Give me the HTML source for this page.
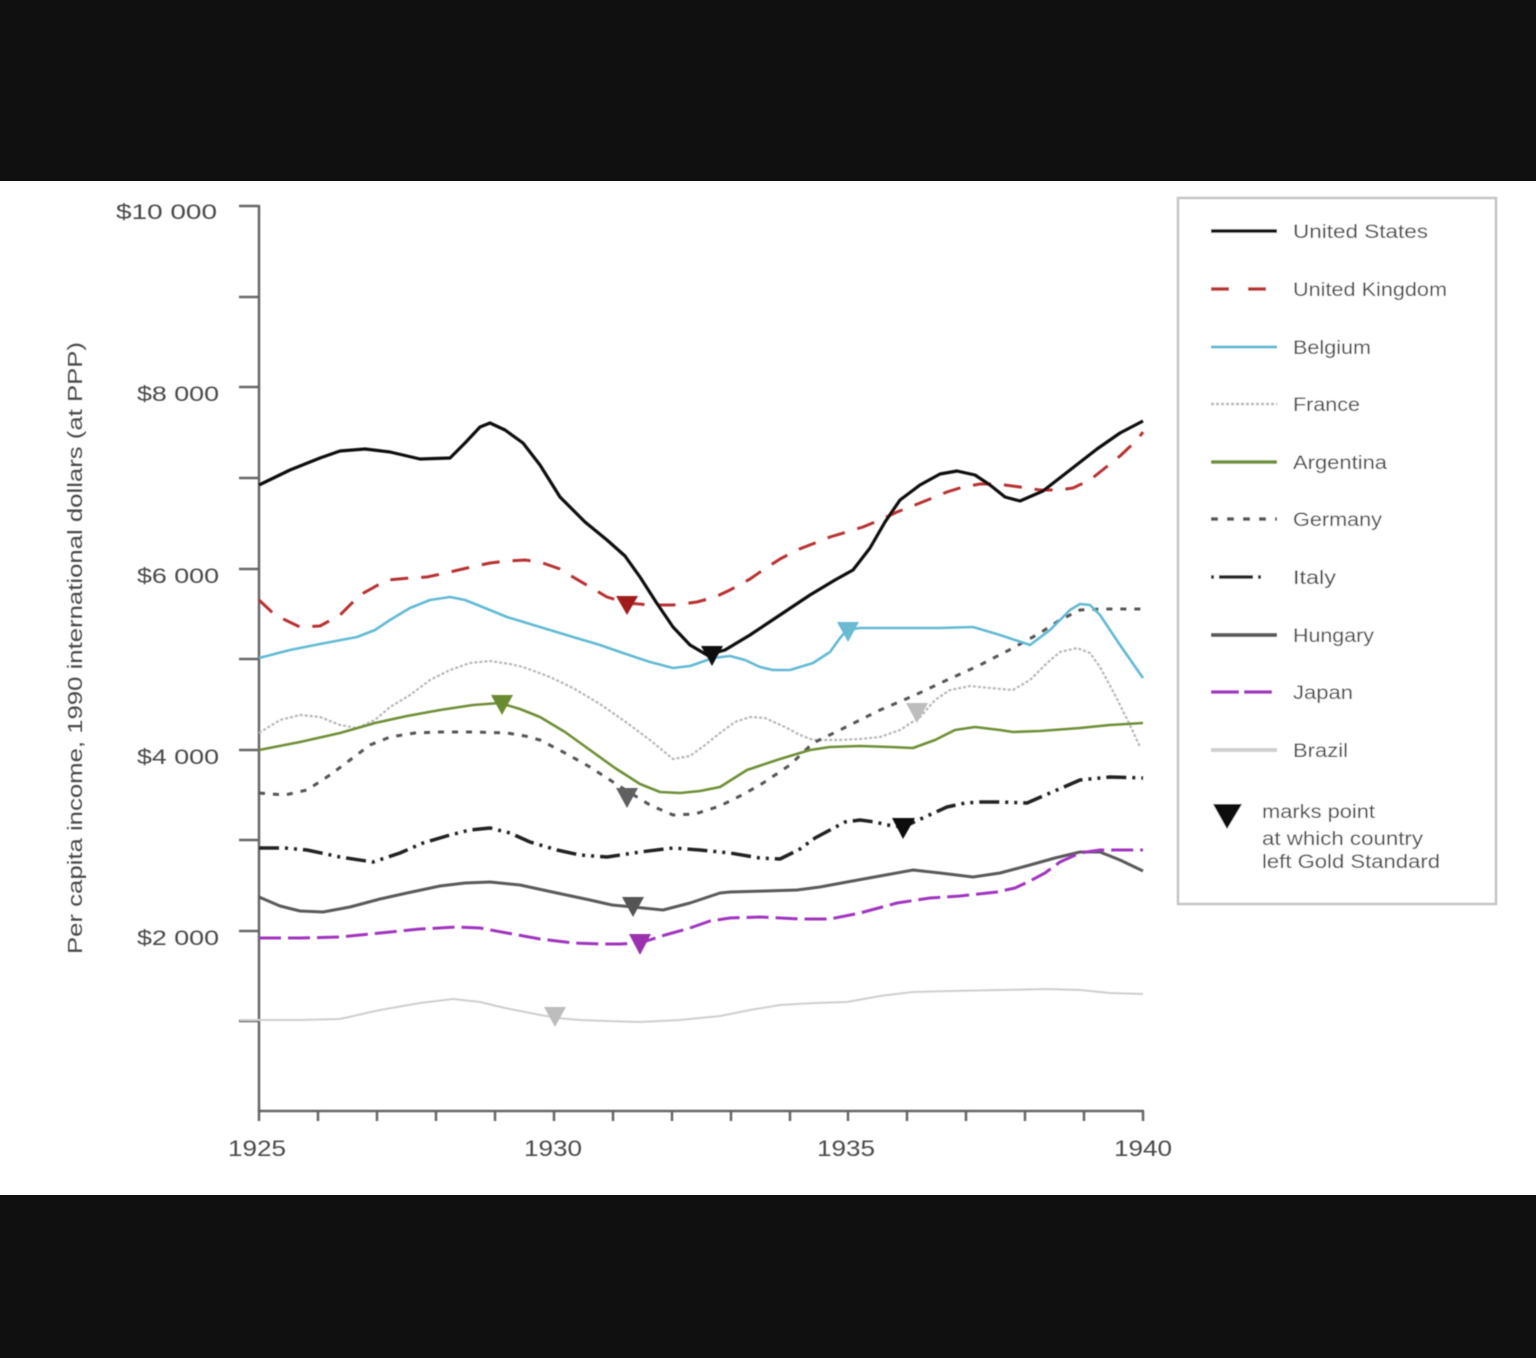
<!DOCTYPE html>
<html>
<head>
<meta charset="utf-8">
<style>
html,body{margin:0;padding:0;background:#111;}
body{width:1536px;height:1358px;position:relative;overflow:hidden;}
svg{position:absolute;left:0;top:0;}
text{font-family:"Liberation Sans",sans-serif;fill:#4a4a4a;}
</style>
</head>
<body>
<svg width="1536" height="1358" viewBox="0 0 1536 1358" xmlns="http://www.w3.org/2000/svg">
  <defs>
    <filter id="soft" x="-5%" y="-5%" width="110%" height="110%">
      <feGaussianBlur stdDeviation="0.6"/>
    </filter>
  </defs>
  <rect x="0" y="0" width="1536" height="181" fill="#101010"/>
  <rect x="0" y="181" width="1536" height="1014" fill="#ffffff"/>
  <rect x="0" y="1195" width="1536" height="163" fill="#101010"/>

  <g filter="url(#soft)">
  <!-- Axes -->
  <g stroke="#666" stroke-width="2.5" fill="none">
    <line x1="259" y1="205" x2="259" y2="1112"/>
    <line x1="258" y1="1111" x2="1144" y2="1111"/>
    <line x1="239" y1="206" x2="259" y2="206"/>
    <line x1="239" y1="297" x2="259" y2="297"/>
    <line x1="239" y1="387" x2="259" y2="387"/>
    <line x1="239" y1="478" x2="259" y2="478"/>
    <line x1="239" y1="569" x2="259" y2="569"/>
    <line x1="239" y1="659" x2="259" y2="659"/>
    <line x1="239" y1="750" x2="259" y2="750"/>
    <line x1="239" y1="840" x2="259" y2="840"/>
    <line x1="239" y1="931" x2="259" y2="931"/>
    <line x1="239" y1="1021" x2="259" y2="1021"/>
    <line x1="259" y1="1111" x2="259" y2="1121"/>
    <line x1="318" y1="1111" x2="318" y2="1121"/>
    <line x1="377" y1="1111" x2="377" y2="1121"/>
    <line x1="436" y1="1111" x2="436" y2="1121"/>
    <line x1="495" y1="1111" x2="495" y2="1121"/>
    <line x1="554" y1="1111" x2="554" y2="1121"/>
    <line x1="613" y1="1111" x2="613" y2="1121"/>
    <line x1="672" y1="1111" x2="672" y2="1121"/>
    <line x1="731" y1="1111" x2="731" y2="1121"/>
    <line x1="790" y1="1111" x2="790" y2="1121"/>
    <line x1="848" y1="1111" x2="848" y2="1121"/>
    <line x1="907" y1="1111" x2="907" y2="1121"/>
    <line x1="966" y1="1111" x2="966" y2="1121"/>
    <line x1="1025" y1="1111" x2="1025" y2="1121"/>
    <line x1="1084" y1="1111" x2="1084" y2="1121"/>
    <line x1="1143" y1="1111" x2="1143" y2="1121"/>
  </g>

  <!-- Y labels -->
  <g font-size="21" text-anchor="end">
    <text x="217" y="219" textLength="101" lengthAdjust="spacingAndGlyphs">$10 000</text>
    <text x="219" y="401" textLength="82" lengthAdjust="spacingAndGlyphs">$8 000</text>
    <text x="219" y="583" textLength="82" lengthAdjust="spacingAndGlyphs">$6 000</text>
    <text x="219" y="764" textLength="82" lengthAdjust="spacingAndGlyphs">$4 000</text>
    <text x="219" y="945" textLength="82" lengthAdjust="spacingAndGlyphs">$2 000</text>
  </g>
  <!-- X labels -->
  <g font-size="22" text-anchor="middle">
    <text x="257" y="1156" textLength="58" lengthAdjust="spacingAndGlyphs">1925</text>
    <text x="553" y="1156" textLength="58" lengthAdjust="spacingAndGlyphs">1930</text>
    <text x="846" y="1156" textLength="58" lengthAdjust="spacingAndGlyphs">1935</text>
    <text x="1143" y="1156" textLength="58" lengthAdjust="spacingAndGlyphs">1940</text>
  </g>
  <!-- Y title -->
  <text font-size="20" text-anchor="middle" transform="translate(82,648) rotate(-90)" textLength="612" lengthAdjust="spacingAndGlyphs">Per capita income, 1990 international dollars (at PPP)</text>

  <!-- Series -->
  <g fill="none" stroke-linejoin="round">
    <polyline stroke="#cfcfcf" stroke-width="2" points="240,1020 259,1020 300,1020 340,1019 380,1010 420,1003 453,999 480,1002 505,1008 530,1013 557,1018 580,1020 607,1021 640,1022 680,1020 720,1016 750,1010 780,1005 815,1003 847,1002 880,996 913,992 950,991 1000,990 1047,989 1080,990 1110,993 1143,994"/>
    <polyline stroke="#b8b8b8" stroke-width="2.2" stroke-dasharray="3,2" points="259,733 280,720 300,715 320,717 340,725 357,728 375,720 390,707 410,695 430,680 450,670 470,663 490,661 510,664 523,667 550,677 573,688 600,704 623,720 650,740 673,759 690,756 705,745 720,733 735,722 750,717 765,718 785,727 800,735 813,740 840,740 860,739 880,737 900,730 920,717 935,700 950,690 970,686 990,688 1013,690 1030,680 1047,663 1060,652 1077,648 1090,653 1100,667 1115,695 1130,725 1140,747"/>
    <polyline stroke="#555" stroke-width="3" stroke-dasharray="6,8" points="259,793 285,795 307,790 330,775 350,760 370,745 390,737 415,733 440,732 475,732 507,733 525,736 540,740 565,753 590,767 610,780 627,791 650,805 673,815 695,814 720,806 740,796 760,785 790,765 813,743 840,730 860,720 880,710 913,696 947,680 980,665 1013,648 1040,633 1060,620 1080,610 1100,609 1143,609"/>
    <polyline stroke="#5a5a5a" stroke-width="3" points="259,897 280,906 300,911 323,912 350,907 380,899 407,893 440,886 465,883 490,882 520,885 557,893 590,900 612,905 633,907 663,910 690,903 720,893 730,892 765,891 797,890 820,887 847,882 880,876 913,870 940,873 973,877 1000,873 1030,865 1055,858 1080,852 1100,852 1120,860 1143,871"/>
    <polyline stroke="#a035bf" stroke-width="3" stroke-dasharray="22,7" points="259,938 300,938 340,937 380,933 420,929 457,927 480,928 507,933 540,939 573,943 600,944 620,944 640,943 665,935 690,928 710,921 730,918 760,917 800,919 830,919 860,913 897,903 930,898 960,896 997,892 1015,888 1030,881 1045,873 1060,862 1080,853 1100,850 1143,850"/>
    <polyline stroke="#222" stroke-width="3.5" stroke-dasharray="20,6,3,6,3,6" points="259,848 285,848 307,850 340,857 373,862 400,853 423,843 450,835 470,830 490,828 510,833 530,842 557,850 580,855 607,857 640,852 673,848 700,850 730,853 760,858 780,859 800,849 815,838 830,830 845,822 860,820 875,822 887,825 903,827 925,817 947,807 965,803 980,802 1000,802 1027,803 1050,793 1080,780 1110,777 1143,778"/>
    <polyline stroke="#6e8f35" stroke-width="2.6" points="259,750 300,742 340,733 375,723 407,716 440,710 473,705 500,703 520,709 540,717 565,732 590,750 615,768 640,784 660,792 680,793 700,791 720,787 747,770 780,759 810,750 830,747 860,746 890,747 913,748 935,740 955,730 975,727 1000,730 1013,732 1040,731 1080,728 1110,725 1143,723"/>
    <polyline stroke="#62bad4" stroke-width="2.6" points="259,658 290,650 320,644 357,637 375,630 390,620 410,608 430,600 450,597 465,600 480,606 507,617 540,627 573,637 600,645 623,653 650,662 673,668 690,666 713,658 730,656 745,660 760,667 773,670 790,670 813,663 830,652 840,638 847,630 860,628 900,628 940,628 973,627 1000,635 1030,645 1050,630 1070,610 1080,604 1090,605 1100,615 1120,645 1143,678"/>
    <polyline stroke="#b83030" stroke-width="3" stroke-dasharray="18,13" points="259,600 275,615 300,627 320,626 340,615 360,595 387,580 410,578 427,577 450,572 467,568 490,563 507,561 525,560 540,562 560,569 573,577 590,587 607,597 627,603 650,605 673,605 697,602 715,597 730,590 750,579 763,570 780,559 797,550 815,543 830,537 863,527 880,520 897,512 915,505 930,499 947,492 963,487 980,484 997,484 1020,487 1040,490 1060,490 1073,488 1090,480 1100,472 1120,456 1137,440 1143,432"/>
    <polyline stroke="#111" stroke-width="3.2" points="259,485 290,470 320,458 340,451 365,449 390,452 420,459 450,458 465,443 480,427 490,423 505,430 523,443 540,465 560,497 585,522 607,540 625,556 640,577 656,602 673,627 690,645 707,655 725,650 750,635 780,615 810,595 835,580 853,570 870,548 885,522 900,500 920,485 940,474 957,471 975,475 990,485 1005,497 1020,501 1043,491 1070,470 1097,449 1120,433 1143,421"/>
  </g>

  <!-- Markers -->
  <g>
    <polygon fill="#a01c1c" points="616,596 638,596 627,615"/>
    <polygon fill="#111" points="701,646 723,646 712,666"/>
    <polygon fill="#6bbad4" points="837,622 859,622 848,642"/>
    <polygon fill="#bdbdbd" points="906,703 928,703 917,723"/>
    <polygon fill="#6a8a30" points="491,695 513,695 502,715"/>
    <polygon fill="#606060" points="616,788 638,788 627,808"/>
    <polygon fill="#111" points="892,818 915,818 903,839"/>
    <polygon fill="#555" points="622,897 644,897 633,917"/>
    <polygon fill="#9a30b0" points="629,934 651,934 640,955"/>
    <polygon fill="#bdbdbd" points="544,1007 566,1007 555,1027"/>
  </g>

  <!-- Legend -->
  <rect x="1178" y="198" width="318" height="706" fill="#fff" stroke="#c4c4c4" stroke-width="2.5"/>
  <g fill="none">
    <line x1="1211" y1="231" x2="1277" y2="231" stroke="#111" stroke-width="3.5"/>
    <line x1="1211" y1="289" x2="1277" y2="289" stroke="#b83030" stroke-width="3.5" stroke-dasharray="18,19"/>
    <line x1="1211" y1="347" x2="1277" y2="347" stroke="#62bad4" stroke-width="3"/>
    <line x1="1211" y1="404" x2="1277" y2="404" stroke="#b8b8b8" stroke-width="2.5" stroke-dasharray="3,2"/>
    <line x1="1211" y1="462" x2="1277" y2="462" stroke="#6e8f35" stroke-width="3.5"/>
    <line x1="1211" y1="519" x2="1277" y2="519" stroke="#555" stroke-width="3.5" stroke-dasharray="7,9"/>
    <line x1="1211" y1="577" x2="1277" y2="577" stroke="#222" stroke-width="3.5" stroke-dasharray="3,5,34,5,3,20"/>
    <line x1="1211" y1="635" x2="1277" y2="635" stroke="#5a5a5a" stroke-width="4"/>
    <line x1="1211" y1="692" x2="1277" y2="692" stroke="#a035bf" stroke-width="3.5" stroke-dasharray="28,5"/>
    <line x1="1211" y1="750" x2="1277" y2="750" stroke="#cfcfcf" stroke-width="4"/>
  </g>
  <polygon fill="#111" points="1213,804 1242,804 1227,829"/>
  <g font-size="19">
    <text x="1293" y="238" textLength="135" lengthAdjust="spacingAndGlyphs">United States</text>
    <text x="1293" y="296" textLength="154" lengthAdjust="spacingAndGlyphs">United Kingdom</text>
    <text x="1293" y="354" textLength="78" lengthAdjust="spacingAndGlyphs">Belgium</text>
    <text x="1293" y="411" textLength="67" lengthAdjust="spacingAndGlyphs">France</text>
    <text x="1293" y="469" textLength="94" lengthAdjust="spacingAndGlyphs">Argentina</text>
    <text x="1293" y="526" textLength="89" lengthAdjust="spacingAndGlyphs">Germany</text>
    <text x="1293" y="584" textLength="43" lengthAdjust="spacingAndGlyphs">Italy</text>
    <text x="1293" y="642" textLength="81" lengthAdjust="spacingAndGlyphs">Hungary</text>
    <text x="1293" y="699" textLength="60" lengthAdjust="spacingAndGlyphs">Japan</text>
    <text x="1293" y="757" textLength="55" lengthAdjust="spacingAndGlyphs">Brazil</text>
    <text x="1262" y="818" textLength="113" lengthAdjust="spacingAndGlyphs">marks point</text>
    <text x="1262" y="845" textLength="161" lengthAdjust="spacingAndGlyphs">at which country</text>
    <text x="1262" y="868" textLength="178" lengthAdjust="spacingAndGlyphs">left Gold Standard</text>
  </g>
  </g>
</svg>
</body>
</html>
